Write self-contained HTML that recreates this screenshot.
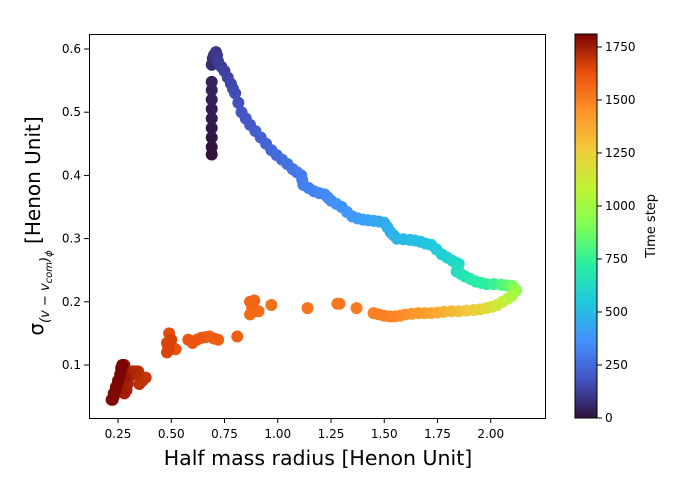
<!DOCTYPE html>
<html><head><meta charset="utf-8"><style>
body{margin:0;background:#fff}
svg{display:block;font-family:"DejaVu Sans","Liberation Sans",sans-serif}
</style></head><body>
<svg id="c" width="675" height="478" viewBox="0 0 675 478">
<defs><linearGradient id="turbo" x1="0" y1="1" x2="0" y2="0">
<stop offset="0" stop-color="#30123b"/><stop offset="0.1" stop-color="#4454c4"/><stop offset="0.2" stop-color="#4490fe"/><stop offset="0.3" stop-color="#1fc8de"/><stop offset="0.4" stop-color="#29efa2"/><stop offset="0.5" stop-color="#7eff55"/><stop offset="0.6" stop-color="#c1f334"/><stop offset="0.7" stop-color="#f1ca3a"/><stop offset="0.8" stop-color="#fe922a"/><stop offset="0.9" stop-color="#ea4f0d"/><stop offset="1" stop-color="#7a0403"/></linearGradient></defs>
<g id="marks"></g>
<rect x="89.5" y="34.5" width="456" height="384" fill="none" stroke="#000" stroke-width="1"/>
<g id="xt"></g>
<g id="yt"></g>
<text x="318" y="465" font-size="20.5" text-anchor="middle">Half mass radius [Henon Unit]</text>
<text transform="translate(43,226) rotate(-90)" font-size="20" text-anchor="middle">σ<tspan font-size="13" dy="6" font-style="italic">(v − v</tspan><tspan font-size="10" dy="3" font-style="italic">com</tspan><tspan font-size="13" dy="-3" font-style="italic">)</tspan><tspan font-size="10" dy="3" font-style="italic">ϕ</tspan><tspan dy="-12"> [Henon Unit]</tspan></text>
<rect x="575" y="34" width="22" height="384" fill="url(#turbo)" stroke="#000" stroke-width="1"/>
<g id="ct"></g>
<text transform="translate(655,226) rotate(-90)" font-size="13" text-anchor="middle">Time step</text>
</svg>
<script>
const xs=[
0.69,0.69,0.69,0.69,0.69,0.69,0.69,0.69,0.69,0.69,
0.695,0.70,0.71,0.715,0.72,0.735,0.75,0.765,0.78,0.79,
0.80,0.815,0.83,0.85,0.87,0.895,0.92,0.945,0.97,0.995,
1.02,1.045,1.07,1.09,1.11,1.115,1.12,1.145,1.17,1.195,
1.22,1.235,1.25,1.275,1.30,1.325,1.35,1.375,1.40,1.425,
1.45,1.475,1.50,1.515,1.53,1.545,1.56,1.59,1.62,1.645,
1.67,1.695,1.72,1.745,1.77,1.795,1.82,1.835,1.85,1.845,
1.84,1.86,1.88,1.905,1.93,1.955,1.98,2.015,2.05,2.075,
2.10,2.11,2.12,2.10,2.08,2.055,2.03,2.005,1.98,1.95,
1.92,1.885,1.85,1.815,1.78,1.75,1.72,1.69,1.66,1.63,
1.60,1.575,1.55,1.525,1.50,1.475,1.45,1.37,1.28,1.29,
1.14,0.97,0.91,0.89,0.87,0.88,0.87,0.89,0.81,0.72,
0.70,0.68,0.66,0.64,0.62,0.60,0.58,0.52,0.50,0.495,
0.49,0.485,0.48,0.48,0.49,0.50,0.38,0.365,0.35,0.345,
0.34,0.33,0.32,0.31,0.30,0.295,0.29,0.28,0.27,0.285,
0.28,0.27,0.26,0.25,0.24,0.235,0.23,0.225,0.22,0.23,
0.24,0.25,0.26,0.265,0.27];
const ys=[
0.433,0.445,0.46,0.475,0.49,0.505,0.52,0.535,0.548,0.575,
0.585,0.59,0.595,0.59,0.58,0.572,0.565,0.555,0.545,0.537,
0.53,0.515,0.50,0.49,0.48,0.47,0.46,0.45,0.44,0.432,
0.425,0.418,0.41,0.405,0.40,0.393,0.385,0.38,0.375,0.372,
0.37,0.365,0.36,0.355,0.35,0.342,0.335,0.332,0.33,0.329,
0.328,0.327,0.325,0.318,0.31,0.305,0.30,0.299,0.298,0.297,
0.295,0.292,0.29,0.283,0.275,0.27,0.265,0.262,0.26,0.254,
0.248,0.244,0.24,0.236,0.232,0.23,0.228,0.228,0.227,0.226,
0.225,0.222,0.218,0.21,0.205,0.2,0.195,0.192,0.19,0.188,
0.187,0.186,0.185,0.185,0.184,0.183,0.182,0.182,0.182,0.181,
0.18,0.178,0.177,0.177,0.178,0.18,0.182,0.19,0.197,0.197,
0.19,0.195,0.185,0.185,0.18,0.19,0.20,0.202,0.145,0.14,
0.142,0.145,0.144,0.143,0.14,0.135,0.14,0.125,0.13,0.14,
0.15,0.13,0.135,0.12,0.128,0.14,0.08,0.075,0.07,0.09,
0.085,0.09,0.09,0.085,0.08,0.07,0.06,0.055,0.06,0.08,
0.10,0.09,0.08,0.07,0.06,0.055,0.05,0.045,0.045,0.055,
0.065,0.075,0.085,0.095,0.10];
const ts=[
0,6,12,18,24,30,36,42,48,70,
80,90,100,108,115,122,130,138,145,152,
160,170,180,190,200,210,220,230,240,250,
260,270,280,290,300,305,310,318,325,333,
340,348,355,363,370,380,390,400,410,420,
430,440,450,458,465,472,480,490,500,510,
520,530,540,555,570,585,600,610,620,630,
640,655,670,685,700,715,730,760,790,830,
870,920,960,1000,1040,1080,1120,1150,1180,1210,
1240,1270,1300,1320,1340,1360,1380,1400,1420,1435,
1450,1460,1470,1480,1490,1495,1500,1510,1520,1522,
1530,1540,1545,1550,1555,1560,1565,1570,1580,1585,
1590,1595,1600,1605,1610,1615,1620,1625,1630,1635,
1640,1645,1650,1655,1658,1660,1690,1695,1700,1705,
1710,1715,1720,1725,1730,1735,1740,1745,1750,1755,
1760,1765,1770,1775,1780,1785,1790,1795,1798,1800,
1802,1804,1806,1808,1810];
const xTicks=[0.25,0.5,0.75,1.0,1.25,1.5,1.75,2.0];
const xTickLabels=["0.25","0.50","0.75","1.00","1.25","1.50","1.75","2.00"];
const yTicks=[0.1,0.2,0.3,0.4,0.5,0.6];
const cTicks=[0,250,500,750,1000,1250,1500,1750];
const X=v=>118+(v-0.25)*213, Y=v=>49+(0.6-v)*632, C=v=>418-v*384/1811;
const stops=["#30123b","#4454c4","#4490fe","#1fc8de","#29efa2","#7eff55","#c1f334","#f1ca3a","#fe922a","#ea4f0d","#7a0403"];
function col(t){if(!(t>=0))t=0;t=Math.min(1,t)*10;const i=Math.min(9,Math.floor(t)),f=t-i;
const a=stops[i],b=stops[i+1];let r=[];for(let k=0;k<3;k++){const p=parseInt(a.substr(1+2*k,2),16),q=parseInt(b.substr(1+2*k,2),16);r.push(Math.round(p+(q-p)*f));}return `rgb(${r})`;}
const NS="http://www.w3.org/2000/svg";
function mk(tag,at,par){const e=document.createElementNS(NS,tag);for(const k in at)e.setAttribute(k,at[k]);document.getElementById(par).appendChild(e);return e;}
const n=Math.min(xs.length,ys.length,ts.length);
for(let i=0;i<n;i++){const e=mk("circle",{cx:X(xs[i]),cy:Y(ys[i]),r:6,fill:col(ts[i]/1811)},"marks");

}
xTicks.forEach((v,i)=>{const l=mk("line",{x1:X(v),x2:X(v),y1:418,y2:423,stroke:"#000"},"xt");


const t=mk("text",{x:X(v),y:438,"font-size":12,"text-anchor":"middle"},"xt");t.textContent=xTickLabels[i];

});
yTicks.forEach(v=>{const l=mk("line",{x1:84,x2:89,y1:Y(v),y2:Y(v),stroke:"#000"},"yt");


const t=mk("text",{x:81,y:Y(v)+4,"font-size":12,"text-anchor":"end"},"yt");t.textContent=v.toFixed(1);

});
cTicks.forEach(v=>{const l=mk("line",{x1:597,x2:602,y1:C(v),y2:C(v),stroke:"#000"},"ct");


const t=mk("text",{x:605,y:C(v)+4,"font-size":12},"ct");t.textContent=v;

});
</script>
</body></html>
